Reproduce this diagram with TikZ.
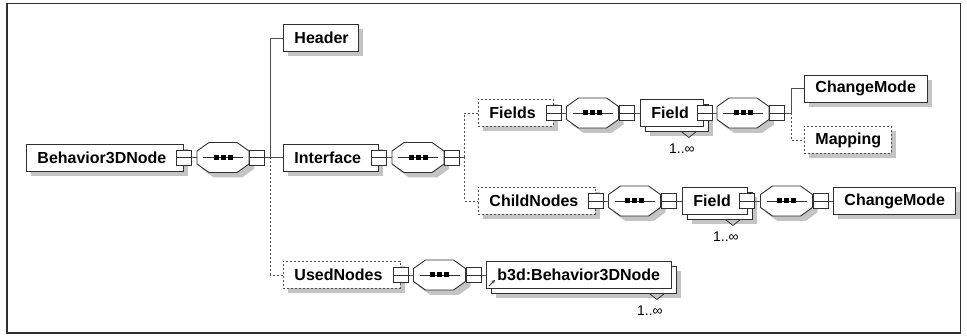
\documentclass[tikz,border=0pt]{standalone}
\usepackage{fontspec}
\setmainfont{Liberation Sans}
\usetikzlibrary{shadows,arrows.meta,calc}
\definecolor{shd}{HTML}{C4C4C4}
\definecolor{ln}{HTML}{505050}
\definecolor{bx}{HTML}{303030}
\tikzset{
  elem/.style={draw=bx, fill=white, anchor=west, minimum height=27pt,
    inner xsep=11pt, inner ysep=2pt, align=left, line width=0.9pt,
    font=\fontsize{16}{18}\selectfont\bfseries,
    drop shadow={shadow xshift=5pt, shadow yshift=-5pt, fill=shd, opacity=1}},
  optel/.style={dash pattern=on 2pt off 2pt, draw=ln},
  multi/.style={drop shadow={shadow xshift=10pt, shadow yshift=-10pt, fill=shd, opacity=1},
    copy shadow={shadow xshift=5pt, shadow yshift=-5pt, draw=bx, fill=white, line width=0.9pt, opacity=1}},
  sq/.style={draw=bx, fill=white, minimum width=15pt, minimum height=15pt,
    inner sep=0pt, line width=0.8pt,
    path picture={\draw[bx, line width=0.8pt] (path picture bounding box.west) -- (path picture bounding box.east);}},
  conn/.style={draw=ln, line width=0.9pt},
  optconn/.style={draw=ln, line width=0.9pt, dash pattern=on 2pt off 2pt},
  lbl/.style={font=\fontsize{14}{15}\selectfont, inner sep=0pt, text=black},
  notch/.style={draw=bx, line width=0.8pt}
}
\newcommand{\seqoct}[3]{%
  \begin{scope}[shift={(#2,#3)}]
    \fill[shd] (5,-1.5) -- (17,-10) -- (45,-10) -- (57,-1.5) -- (57,11.5) -- (45,20) -- (17,20) -- (5,11.5) -- cycle;
    \filldraw[fill=white, draw=bx, line width=0.9pt] (0,-6.5) -- (12,-15) -- (40,-15) -- (52,-6.5) -- (52,6.5) -- (40,15) -- (12,15) -- (0,6.5) -- cycle;
    \node[minimum width=52pt, minimum height=30pt, inner sep=0pt, anchor=west] (#1) at (0,0) {};
    \draw[bx, line width=0.9pt] (6,0) -- (46,0);
    \fill[black] (16.5,-2.5) rectangle (21.5,2.5);
    \fill[black] (23.5,-2.5) rectangle (28.5,2.5);
    \fill[black] (30.5,-2.5) rectangle (35.5,2.5);
  \end{scope}}
\begin{document}
\begin{tikzpicture}[x=1pt, y=-1pt]
\useasboundingbox (0,0) rectangle (967,336);
\draw[line width=1.6pt, draw=bx] (7,3.5) rectangle (960.5,333);

% elements
\node[elem, minimum width=157pt, text width=135pt] (b3d) at (26,157.5) {Behavior3DNode};
\node[elem, minimum width=75pt, text width=53pt] (header) at (283,38) {Header};
\node[elem, minimum width=95pt, text width=73pt] (interface) at (283,157.5) {Interface};
\node[elem, optel, minimum width=117pt, text width=95pt] (used) at (283,275) {UsedNodes};
\node[elem, optel, minimum width=75pt, text width=53pt] (fields) at (478,113) {Fields};
\node[elem, optel, minimum width=117pt, text width=95pt] (child) at (478,201) {ChildNodes};
\node[elem, multi, minimum width=63pt, text width=41pt] (field1) at (640,113) {Field};
\node[elem, multi, minimum width=65pt, text width=43pt] (field2) at (682,201) {Field};
\node[elem, minimum width=123pt, text width=101pt] (cm1) at (804,88.5) {ChangeMode};
\node[elem, optel, minimum width=87pt, text width=65pt] (mapping) at (804,140) {Mapping};
\node[elem, minimum width=122pt, text width=100pt] (cm2) at (833,201) {ChangeMode};
\node[elem, multi, minimum width=185pt, text width=163pt] (ref) at (486,275) {b3d:Behavior3DNode};

% sequence compositors
\seqoct{o1}{197}{157.5}
\seqoct{o2}{392}{157.5}
\seqoct{o3}{566.5}{113}
\seqoct{o4}{717}{113}
\seqoct{o5}{608.5}{201}
\seqoct{o6}{760.5}{201}
\seqoct{o7}{413.5}{275}

% trunk points
\coordinate (t1) at (270,157.5);
\coordinate (t2) at (464,157.5);
\coordinate (t3) at (791,113);

% connectors
\draw[conn] (b3d.east) -- (o1.west);
\draw[conn] (o1.east) -- (t1);
\draw[conn] (t1) |- (header.west);
\draw[conn] (t1) -- (interface.west);
\draw[optconn] (t1) |- (used.west);
\draw[conn] (interface.east) -- (o2.west);
\draw[conn] (o2.east) -- (t2);
\draw[optconn] (t2) |- (fields.west);
\draw[optconn] (t2) |- (child.west);
\draw[conn] (fields.east) -- (o3.west);
\draw[conn] (o3.east) -- (field1.west);
\draw[conn] (field1.east) -- (o4.west);
\draw[conn] (o4.east) -- (t3);
\draw[conn] (t3) |- (cm1.west);
\draw[optconn] (t3) |- (mapping.west);
\draw[conn] (child.east) -- (o5.west);
\draw[conn] (o5.east) -- (field2.west);
\draw[conn] (field2.east) -- (o6.west);
\draw[conn] (o6.east) -- (cm2.west);
\draw[conn] (used.east) -- (o7.west);
\draw[conn] (o7.east) -- (ref.west);

% expand squares on elements
\node[sq] (sb3d) at (b3d.east) {};
\node[sq] (sint) at (interface.east) {};
\node[sq] (sfields) at (fields.east) {};
\node[sq] (schild) at (child.east) {};
\node[sq] (sused) at (used.east) {};
\node[sq] (sf1) at ([xshift=0.5pt]field1.east) {};
\node[sq] (sf2) at ([xshift=-1pt]field2.east) {};
% squares after compositors
\node[sq, anchor=west] (so1) at (o1.east) {};
\node[sq, anchor=west] (so2) at (o2.east) {};
\node[sq, anchor=west] (so3) at (o3.east) {};
\node[sq, anchor=west] (so4) at (o4.east) {};
\node[sq, anchor=west] (so5) at (o5.east) {};
\node[sq, anchor=west] (so6) at (o6.east) {};
\node[sq, anchor=west] (so7) at (o7.east) {};

% multiplicity notches and labels
\draw[notch] ([xshift=-22pt,yshift=-5pt]field1.south east) -- ++(7pt,-5.5pt) -- ++(7pt,5.5pt);
\draw[notch] ([xshift=-22pt,yshift=-5pt]field2.south east) -- ++(7pt,-5.5pt) -- ++(7pt,5.5pt);
\draw[notch] ([xshift=-22pt,yshift=-5pt]ref.south east) -- ++(7pt,-5.5pt) -- ++(7pt,5.5pt);
\node[lbl] (m1) at ([xshift=-22pt,yshift=-22pt]field1.south east) {1..∞};
\node[lbl] (m2) at ([xshift=-22pt,yshift=-22pt]field2.south east) {1..∞};
\node[lbl] (m3) at ([xshift=-22pt,yshift=-22pt]ref.south east) {1..∞};

% reference arrow
\draw[bx, line width=0.8pt, -{Stealth[length=3.5pt,width=3.5pt]}] ([xshift=3pt,yshift=3pt]ref.south west) -- ([xshift=9pt,yshift=9pt]ref.south west);
\end{tikzpicture}
\end{document}
